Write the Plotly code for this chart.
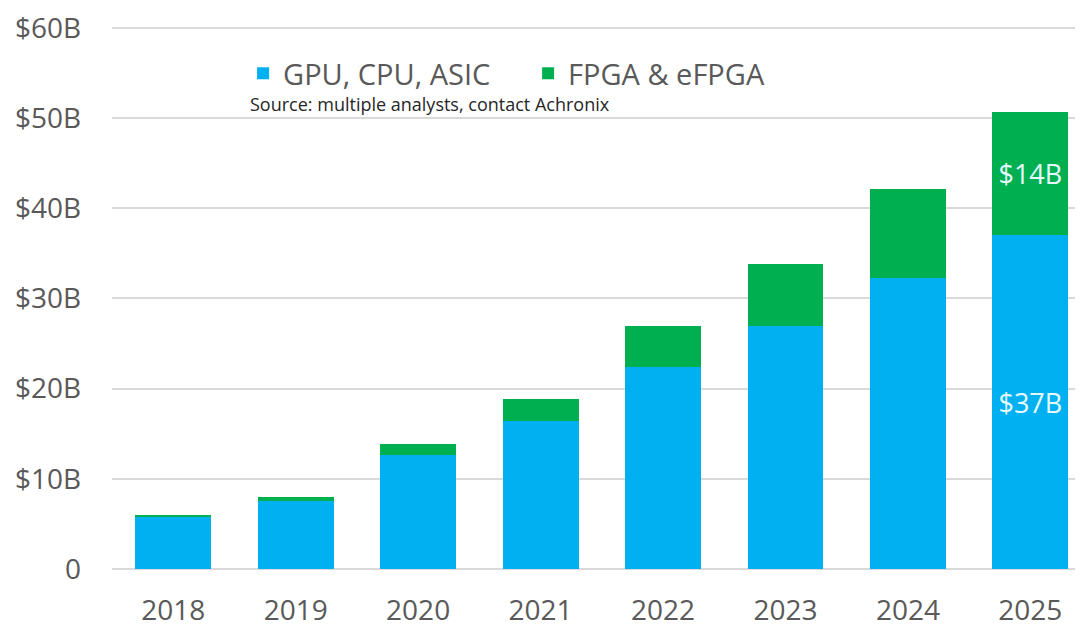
import plotly.graph_objects as go

years = ["2018", "2019", "2020", "2021", "2022", "2023", "2024", "2025"]
gpu_cpu_asic = [5.8, 7.5, 12.6, 16.4, 22.4, 27.0, 32.3, 37.0]
fpga_efpga = [0.2, 0.45, 1.3, 2.5, 4.6, 6.8, 9.8, 13.7]
gpu_labels = ["", "", "", "", "", "", "", "$37B"]
fpga_labels = ["", "", "", "", "", "", "", "$14B"]
y_ticks = [0, 10, 20, 30, 40, 50, 60]
y_tick_text = ["0", "$10B", "$20B", "$30B", "$40B", "$50B", "$60B"]

BLUE = "#00B0F0"
GREEN = "#00B050"
FONT = "Open Sans"
GRAY = "#595959"

fig = go.Figure()
fig.add_trace(go.Bar(
    x=years, y=gpu_cpu_asic, name="GPU, CPU, ASIC",
    marker=dict(color=BLUE, line=dict(width=0)),
    text=gpu_labels, textposition="inside", insidetextanchor="middle",
    textangle=0, textfont=dict(family=FONT, size=27, color="#E6F9FF"),
))
fig.add_trace(go.Bar(
    x=years, y=fpga_efpga, name="FPGA & eFPGA",
    marker=dict(color=GREEN, line=dict(width=0)),
    text=fpga_labels, textposition="inside", insidetextanchor="middle",
    textangle=0, textfont=dict(family=FONT, size=27, color="#E6F9FF"),
))

fig.update_layout(
    barmode="stack",
    bargap=0.38,
    width=1075, height=620,
    margin=dict(l=104, r=0, t=15, b=57, pad=0),
    paper_bgcolor="white", plot_bgcolor="white",
    font=dict(family=FONT, color=GRAY),
    showlegend=True,
    legend=dict(
        orientation="h", x=0.135, y=0.911, xanchor="left", yanchor="middle",
        font=dict(family=FONT, size=29, color=GRAY),
        entrywidth=240, entrywidthmode="pixels",
        bgcolor="rgba(0,0,0,0)", itemclick=False, traceorder="normal",
    ),
    annotations=[dict(
        text="Source: multiple analysts, contact Achronix",
        xref="paper", yref="paper", x=0.140, y=0.854,
        xanchor="left", yanchor="middle", showarrow=False,
        font=dict(family=FONT, size=18, color="#262626"),
    )],
)
fig.update_xaxes(
    type="category", range=[-0.5, 7.43], showgrid=False, showline=False,
    ticks="", tickfont=dict(family=FONT, size=28, color=GRAY),
    ticklabelstandoff=22,
)
fig.update_yaxes(
    range=[0, 60.33], tickvals=y_ticks, ticktext=y_tick_text,
    showgrid=True, gridcolor="#D9D9D9", gridwidth=1.5,
    zeroline=True, zerolinecolor="#D9D9D9", zerolinewidth=1.5,
    showline=False, ticks="",
    tickfont=dict(family=FONT, size=28, color=GRAY),
    ticklabelstandoff=30, ticklabeloverflow="allow",
)

fig.write_html("out.html")
